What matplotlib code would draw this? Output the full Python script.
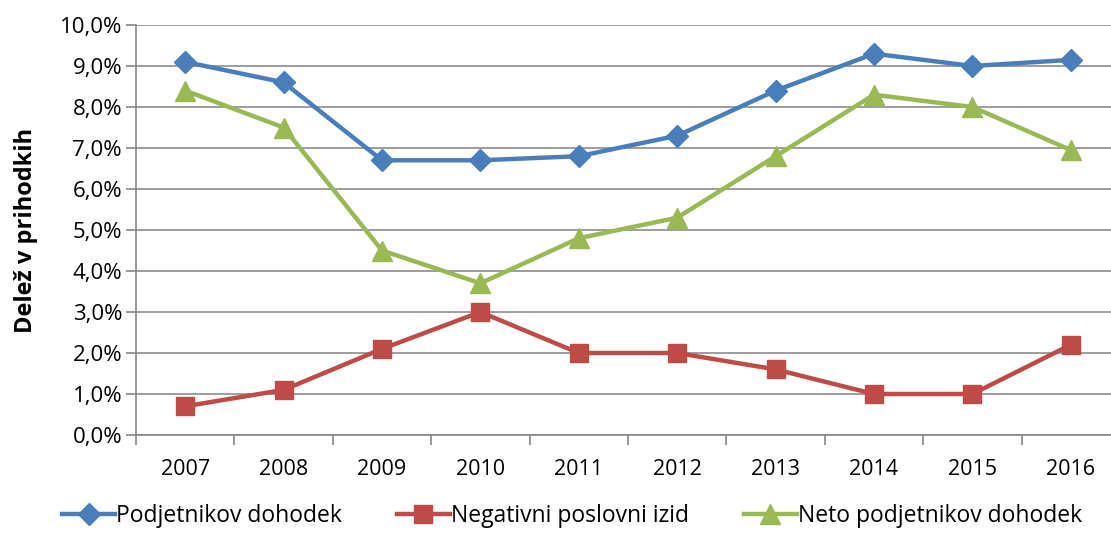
import matplotlib.pyplot as plt
from matplotlib.ticker import FuncFormatter

plt.rcParams['font.family'] = ['Open Sans', 'DejaVu Sans']

years = ['2007', '2008', '2009', '2010', '2011', '2012', '2013', '2014', '2015', '2016']
podjetnikov = [9.1, 8.6, 6.7, 6.7, 6.8, 7.3, 8.4, 9.3, 9.0, 9.15]
negativni = [0.7, 1.1, 2.1, 3.0, 2.0, 2.0, 1.6, 1.0, 1.0, 2.2]
neto = [8.4, 7.5, 4.5, 3.7, 4.8, 5.3, 6.8, 8.3, 8.0, 6.95]
labels = ['Podjetnikov dohodek', 'Negativni poslovni izid', 'Neto podjetnikov dohodek']

fig = plt.figure(figsize=(11.11, 5.37), dpi=100)
ax = fig.add_axes([136/1111, 102/537, 984/1111, 410/537])

x = range(len(years))
ax.plot(x, podjetnikov, color='#4A7EBB', lw=3.2, marker='D', ms=11, label=labels[0], clip_on=False)
ax.plot(x, negativni, color='#BE4B48', lw=3.2, marker='s', ms=13, label=labels[1], clip_on=False)
ax.plot(x, neto, color='#98B954', lw=3.2, marker='^', ms=14, label=labels[2], clip_on=False)

ax.set_xlim(-0.5, len(years) - 0.5)
ax.set_ylim(0, 10)
ax.set_yticks(range(0, 11))
ax.yaxis.set_major_formatter(FuncFormatter(lambda v, p: f'{v:.1f}%'.replace('.', ',')))
ax.set_xticks(list(x))
ax.set_xticklabels(years)
ax.set_xticks([i - 0.5 for i in range(len(years) + 1)], minor=True)
ax.tick_params(axis='x', which='major', length=0, pad=17, labelsize=15.5)
ax.tick_params(axis='x', which='minor', length=7, color='#868686', width=1.2)
ax.tick_params(axis='y', length=7, color='#868686', width=1.2, labelsize=16, pad=3)

ax.grid(axis='y', color='#8C8C8C', lw=1.2)
ax.set_axisbelow(True)
for s in ['top', 'right']:
    ax.spines[s].set_visible(False)
for s in ['left', 'bottom']:
    ax.spines[s].set_color('#868686')
    ax.spines[s].set_linewidth(1.2)

ax.set_ylabel('Delež v prihodkih', fontsize=17, fontweight='bold', labelpad=16)

fig.legend(loc='lower center', bbox_to_anchor=(0.515, -0.008), ncol=3, frameon=False,
           fontsize=16.5, handlelength=2.3, columnspacing=2.4, handletextpad=0.05,
           borderpad=0.1)

plt.savefig('out.png', dpi=100)
